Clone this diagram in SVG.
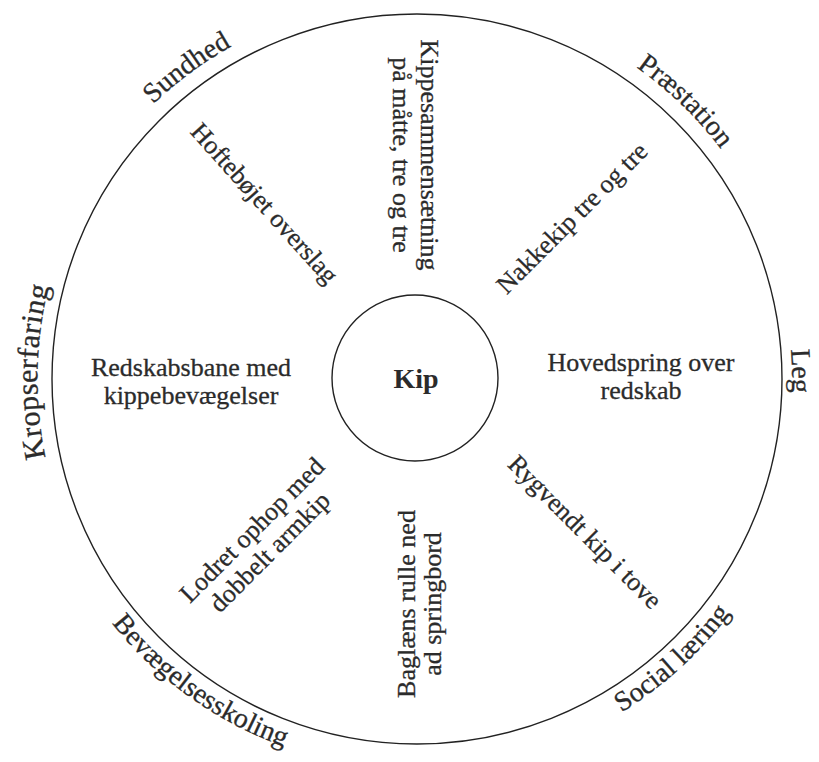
<svg xmlns="http://www.w3.org/2000/svg" width="819" height="762" viewBox="0 0 819 762">
<style>
  .ring{fill:none;stroke:#222;stroke-width:1.4}
  .t{font-family:"Liberation Serif","Times New Roman",serif;font-size:26px;fill:#2b2b2b;stroke:#2b2b2b;stroke-width:0.3;text-anchor:middle}
  .o{font-family:"Liberation Serif","Times New Roman",serif;font-size:28px;fill:#2b2b2b;stroke:#2b2b2b;stroke-width:0.3;text-anchor:middle}
  .k{font-family:"Liberation Serif","Times New Roman",serif;font-size:28px;font-weight:bold;fill:#2b2b2b;text-anchor:middle}
</style>
<defs>
  <path id="p-krop" d="M 376.6 756.8 A 380 380 0 0 1 391.2 -0.1"/>
  <path id="p-sund" d="M 92.2 578.1 A 381 381 0 0 1 702.4 126.6"/>
  <path id="p-praes" d="M 167.0 91.5 A 381 381 0 0 1 713.1 618.8"/>
  <path id="p-leg" d="M 441.9 4.8 A 375 375 0 0 1 457.5 751.8"/>
  <path id="p-soc" d="M 152.3 666.8 A 391 391 0 0 0 727.6 141.5"/>
  <path id="p-bev" d="M 80.5 180.0 A 391 391 0 0 0 713.9 633.5"/>
</defs>
<rect width="819" height="762" fill="#fff"/>
<g id="outer-ring"><circle class="ring" cx="417" cy="379" r="365"/></g>
<g id="center-node">
  <circle class="ring" cx="415" cy="378" r="83"/>
  <text class="k" x="416" y="388">Kip</text>
</g>
<g id="connectors"/>
<g id="outer-labels">
  <g id="lbl-kropserfaring"><text class="o" style="font-size:30px;letter-spacing:0.4px"><textPath href="#p-krop" startOffset="50%">Kropserfaring</textPath></text></g>
  <g id="lbl-sundhed"><text class="o"><textPath href="#p-sund" startOffset="50%">Sundhed</textPath></text></g>
  <g id="lbl-praestation"><text class="o"><textPath href="#p-praes" startOffset="50%">Præstation</textPath></text></g>
  <g id="lbl-leg"><text class="o"><textPath href="#p-leg" startOffset="50%">Leg</textPath></text></g>
  <g id="lbl-social"><text class="o"><textPath href="#p-soc" startOffset="50%">Social læring</textPath></text></g>
  <g id="lbl-bevaegelse"><text class="o"><textPath href="#p-bev" startOffset="50%">Bevægelsesskoling</textPath></text></g>
</g>
<g id="node-top" transform="translate(414,155) rotate(90)">
  <text class="t" y="-7">Kippesammensætning</text>
  <text class="t" y="21">på måtte, tre og tre</text>
</g>
<g id="node-upper-right" transform="translate(578,224) rotate(-45)">
  <text class="t">Nakkekip tre og tre</text>
</g>
<g id="node-right">
  <text class="t" x="641" y="371">Hovedspring over</text>
  <text class="t" x="641" y="399">redskab</text>
</g>
<g id="node-lower-right" transform="translate(579,538) rotate(45)">
  <text class="t">Rygvendt kip i tove</text>
</g>
<g id="node-bottom" transform="translate(415,604) rotate(-90)">
  <text class="t" y="0">Baglæns rulle ned</text>
  <text class="t" y="26">ad springbord</text>
</g>
<g id="node-lower-left" transform="translate(258,536) rotate(-45)">
  <text class="t" y="0">Lodret ophop med</text>
  <text class="t" x="-3" y="28">dobbelt armkip</text>
</g>
<g id="node-left">
  <text class="t" x="191" y="376">Redskabsbane med</text>
  <text class="t" x="191" y="404">kippebevægelser</text>
</g>
<g id="node-upper-left" transform="translate(258,209) rotate(48)">
  <text class="t">Hoftebøjet overslag</text>
</g>
</svg>
